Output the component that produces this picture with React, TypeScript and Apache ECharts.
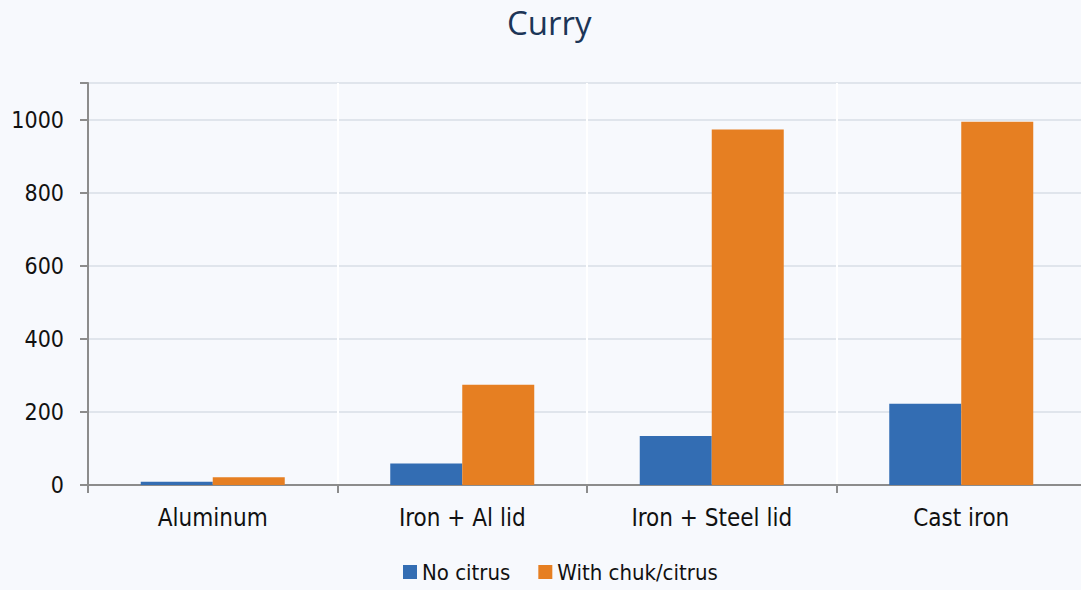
import React, { useEffect, useRef } from "react";
import * as echarts from "echarts";

const categories = ["Aluminum", "Iron + Al lid", "Iron + Steel lid", "Cast iron"];
const noCitrus = [9, 59, 134, 222];
const withCitrus = [21, 274, 973, 994];
const seriesNames = ["No citrus", "With chuk/citrus"];

const FONT = "'DejaVu Sans Condensed', Lato, sans-serif";

export default function App() {
  const ref = useRef<HTMLDivElement>(null);
  useEffect(() => {
    document.body.style.margin = "0";
    document.body.style.overflow = "hidden";
    const chart = echarts.init(ref.current!, undefined, { renderer: "svg" });
    chart.setOption({
      animation: false,
      backgroundColor: "#f7f9fd",
      title: {
        text: "Curry",
        left: 502,
        top: 1,
        textStyle: {
          fontFamily: "'Open Sans', sans-serif",
          fontSize: 33,
          fontWeight: "normal",
          color: "#1c3557",
        },
      },
      legend: {
        bottom: 2,
        left: 398,
        itemWidth: 14,
        itemHeight: 14,
        itemGap: 28,
        icon: "rect",
        textStyle: { fontFamily: FONT, fontSize: 22, color: "#111" },
        data: seriesNames,
      },
      grid: { left: 88, width: 998, top: 83, bottom: 105, containLabel: false },
      xAxis: {
        type: "category",
        data: categories,
        axisLine: { lineStyle: { color: "#8c8c8c", width: 2 } },
        axisTick: { show: true, length: 8, lineStyle: { color: "#8c8c8c", width: 2 } },
        axisLabel: { fontFamily: FONT, fontSize: 24, color: "#111", margin: 21 },
        splitLine: { show: true, lineStyle: { color: "#ffffff", width: 2 } },
      },
      yAxis: {
        type: "value",
        min: 0,
        max: 1100,
        interval: 200,
        axisLine: { show: true, lineStyle: { color: "#8c8c8c", width: 2 } },
        axisTick: { show: true, length: 8, lineStyle: { color: "#8c8c8c", width: 2 } },
        axisLabel: {
          fontFamily: FONT,
          fontSize: 23,
          color: "#111",
          margin: 24,
          formatter: (v: number) => (v === 1100 ? "" : String(v)),
        },
        splitLine: { show: true, lineStyle: { color: "#d8dee6", width: 1.5 } },
      },
      series: [
        {
          name: seriesNames[0],
          type: "bar",
          data: noCitrus,
          barWidth: 72,
          barGap: "0%",
          itemStyle: { color: "#336db3" },
        },
        {
          name: seriesNames[1],
          type: "bar",
          data: withCitrus,
          barWidth: 72,
          barGap: "0%",
          itemStyle: { color: "#e67f22" },
        },
      ],
    });
    return () => chart.dispose();
  }, []);
  return <div ref={ref} style={{ width: 1091, height: 590 }} />;
}
